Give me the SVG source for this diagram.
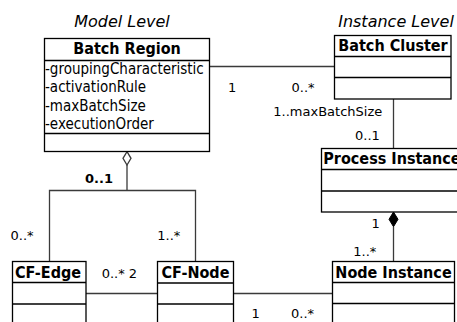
<svg xmlns="http://www.w3.org/2000/svg" width="457" height="322" viewBox="0 0 457 322">
  <style>
    .box { fill: #fff; stroke: #000; stroke-width: 1.3; }
    .sep { stroke: #000; stroke-width: 1.3; }
    .conn { fill: none; stroke: #3a3a3a; stroke-width: 1.3; }
    text { font-family: "DejaVu Sans Condensed", "DejaVu Sans", sans-serif; fill: #000; }
    .title { font-weight: bold; font-size: 16px; text-anchor: middle; }
    .attr { font-size: 15px; }
    .mult { font-size: 13px; font-family: "DejaVu Sans", sans-serif; }
    .level { font-style: italic; font-size: 16px; text-anchor: middle; font-family: "DejaVu Sans", sans-serif; }
  </style>
  <rect width="457" height="322" fill="#fff"/>

  <text class="level" x="122" y="26.5">Model Level</text>
  <text class="level" x="396" y="26.5">Instance Level</text>

  <g id="connectors">
    <path class="conn" d="M209.5 66.5 H334.5"/>
    <path class="conn" d="M393.5 99 V148.5"/>
    <path class="conn" d="M127 165 V190.5"/>
    <path class="conn" d="M49.5 261.5 V190.5 H195.5 V261.5"/>
    <path class="conn" d="M127 151.7 L131 158.3 L127 165 L123 158.3 Z" fill="#fff"/>
    <path class="conn" d="M393.5 226.7 V261.5"/>
    <path d="M393.5 212 L398 219.3 L393.5 226.7 L389 219.3 Z" fill="#000" stroke="#000" stroke-width="1"/>
    <path class="conn" d="M86 293.5 H157.5"/>
    <path class="conn" d="M233.5 293.5 H332.5"/>

    <text class="mult" x="228" y="91.5">1</text>
    <text class="mult" x="291.5" y="91.5">0..*</text>
    <text class="mult" x="273.3" y="115.5">1..maxBatchSize</text>
    <text class="mult" x="355" y="139.5">0..1</text>
    <text class="mult" x="85" y="182.5" font-weight="bold">0..1</text>
    <text class="mult" x="10.5" y="240">0..*</text>
    <text class="mult" x="157.3" y="240">1..*</text>
    <text class="mult" x="101.7" y="278.3">0..* 2</text>
    <text class="mult" x="371.5" y="228.3">1</text>
    <text class="mult" x="353.3" y="256">1..*</text>
    <text class="mult" x="251.5" y="318.3">1</text>
    <text class="mult" x="291" y="318.3">0..*</text>
  </g>

  <g id="batch-region">
    <rect class="box" x="44.5" y="38.5" width="165" height="113"/>
    <line class="sep" x1="44.5" y1="60.5" x2="209.5" y2="60.5"/>
    <line class="sep" x1="44.5" y1="133.5" x2="209.5" y2="133.5"/>
    <text class="title" x="127" y="54.3">Batch Region</text>
    <text class="attr" x="45" y="74">-groupingCharacteristic</text>
    <text class="attr" x="45" y="92.2">-activationRule</text>
    <text class="attr" x="45" y="110.6">-maxBatchSize</text>
    <text class="attr" x="45" y="128.7">-executionOrder</text>
  </g>

  <g id="batch-cluster">
    <rect class="box" x="334.5" y="35.5" width="116.5" height="63.5"/>
    <line class="sep" x1="334.5" y1="56.5" x2="451" y2="56.5"/>
    <line class="sep" x1="334.5" y1="77.5" x2="451" y2="77.5"/>
    <text class="title" x="393" y="50.5">Batch Cluster</text>
  </g>

  <g id="process-instance">
    <rect class="box" x="321.5" y="148.5" width="150" height="63.5"/>
    <line class="sep" x1="321.5" y1="169.5" x2="471.5" y2="169.5"/>
    <line class="sep" x1="321.5" y1="191" x2="471.5" y2="191"/>
    <text class="title" x="323.3" y="164.3" text-anchor="start" style="text-anchor:start">Process Instance</text>
  </g>

  <g id="node-instance">
    <rect class="box" x="332.5" y="261.5" width="122" height="70"/>
    <line class="sep" x1="332.5" y1="282.5" x2="454.5" y2="282.5"/>
    <line class="sep" x1="332.5" y1="303.5" x2="454.5" y2="303.5"/>
    <text class="title" x="393.5" y="278.3">Node Instance</text>
  </g>

  <g id="cf-edge">
    <rect class="box" x="12.5" y="261.5" width="73.5" height="70"/>
    <line class="sep" x1="12.5" y1="282.5" x2="86" y2="282.5"/>
    <line class="sep" x1="12.5" y1="304" x2="86" y2="304"/>
    <text class="title" x="48" y="278.3">CF-Edge</text>
  </g>

  <g id="cf-node">
    <rect class="box" x="157.5" y="261.5" width="76" height="70"/>
    <line class="sep" x1="157.5" y1="283" x2="233.5" y2="283"/>
    <line class="sep" x1="157.5" y1="304" x2="233.5" y2="304"/>
    <text class="title" x="195.5" y="278.3">CF-Node</text>
  </g>
</svg>
